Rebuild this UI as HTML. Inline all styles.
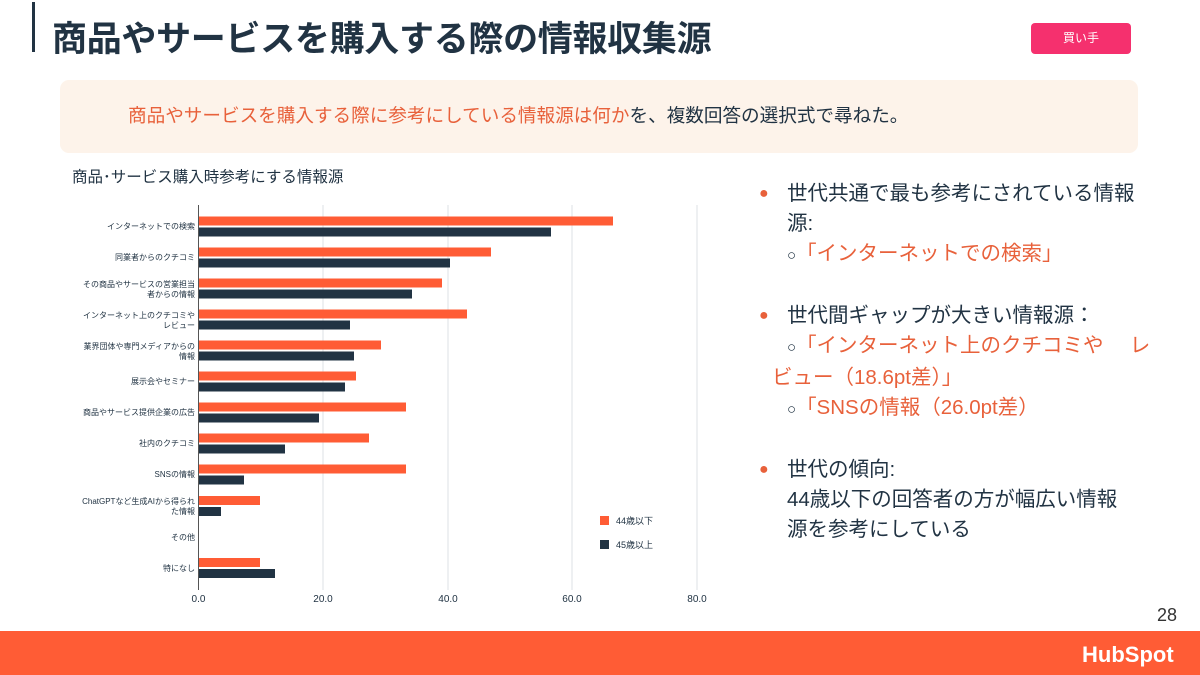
<!DOCTYPE html>
<html><head><meta charset="utf-8"><style>
body{margin:0;width:1200px;height:675px;position:relative;background:#fff;overflow:hidden;font-family:"Liberation Sans","Noto Sans CJK JP",sans-serif;color:#213343}
.a{position:absolute;white-space:nowrap}
.o{color:#e8613b}
</style></head><body>
<div class="a" style="left:32px;top:2px;width:3px;height:50px;background:#213343"></div>
<div class="a" style="left:52px;top:18px;font-size:35px;font-weight:bold;line-height:44px;letter-spacing:-0.3px">商品やサービスを購入する際の情報収集源</div>
<div class="a" style="left:1031px;top:23px;width:100px;height:31px;background:#f5306e;border-radius:4px;color:#fff;font-size:12px;line-height:31px;text-align:center">買い手</div>
<div class="a" style="left:60px;top:80px;width:1078px;height:73px;background:#fdf3ea;border-radius:9px"></div>
<div class="a" style="left:128px;top:103px;font-size:18.6px;line-height:26px"><span class="o">商品やサービスを購入する際に参考にしている情報源は何か</span>を、複数回答の選択式で尋ねた。</div>
<div class="a" style="left:72px;top:167px;font-size:15.5px;line-height:22px">商品･サービス購入時参考にする情報源</div>
<svg class="a" style="left:0;top:0" width="740" height="620" font-family="Liberation Sans,Noto Sans CJK JP,sans-serif">
<g stroke="#dde1e5" stroke-width="1">
<line x1="323" y1="205" x2="323" y2="590"/><line x1="448" y1="205" x2="448" y2="590"/><line x1="572" y1="205" x2="572" y2="590"/><line x1="697" y1="205" x2="697" y2="590"/></g>
<line x1="198.5" y1="205" x2="198.5" y2="590" stroke="#555" stroke-width="1"/>
<g font-size="8" fill="#213343" text-anchor="end">
<text x="195" y="229">インターネットでの検索</text>
<text x="195" y="260">同業者からのクチコミ</text>
<text x="195" y="287">その商品やサービスの営業担当</text><text x="195" y="297">者からの情報</text>
<text x="195" y="318">インターネット上のクチコミや</text><text x="195" y="328">レビュー</text>
<text x="195" y="349">業界団体や専門メディアからの</text><text x="195" y="359">情報</text>
<text x="195" y="384">展示会やセミナー</text>
<text x="195" y="415">商品やサービス提供企業の広告</text>
<text x="195" y="446">社内のクチコミ</text>
<text x="195" y="477">SNSの情報</text>
<text x="195" y="504">ChatGPTなど生成AIから得られ</text><text x="195" y="514">た情報</text>
<text x="195" y="540">その他</text>
<text x="195" y="571">特になし</text>
</g>
<g fill="#ff5c35">
<rect x="199" y="216.5" width="414" height="9"/>
<rect x="199" y="247.5" width="292" height="9"/>
<rect x="199" y="278.5" width="243" height="9"/>
<rect x="199" y="309.5" width="268" height="9"/>
<rect x="199" y="340.5" width="182" height="9"/>
<rect x="199" y="371.5" width="157" height="9"/>
<rect x="199" y="402.5" width="207" height="9"/>
<rect x="199" y="433.5" width="170" height="9"/>
<rect x="199" y="464.5" width="207" height="9"/>
<rect x="199" y="496" width="61" height="9"/>
<rect x="199" y="558" width="61" height="9"/>
</g>
<g fill="#213343">
<rect x="199" y="227.5" width="352" height="9"/>
<rect x="199" y="258.5" width="251" height="9"/>
<rect x="199" y="289.5" width="213" height="9"/>
<rect x="199" y="320.5" width="151" height="9"/>
<rect x="199" y="351.5" width="155" height="9"/>
<rect x="199" y="382.5" width="146" height="9"/>
<rect x="199" y="413.5" width="120" height="9"/>
<rect x="199" y="444.5" width="86" height="9"/>
<rect x="199" y="475.5" width="45" height="9"/>
<rect x="199" y="507" width="22" height="9"/>
<rect x="199" y="569" width="76" height="9"/>
</g>
<rect x="600" y="516" width="9" height="9" fill="#ff5c35"/><text x="616" y="524" font-size="9" fill="#213343">44歳以下</text>
<rect x="600" y="540" width="9" height="9" fill="#213343"/><text x="616" y="548" font-size="9" fill="#213343">45歳以上</text>
<g font-size="10" fill="#213343" text-anchor="middle">
<text x="198.5" y="602">0.0</text><text x="323" y="602">20.0</text><text x="448" y="602">40.0</text><text x="572" y="602">60.0</text><text x="697" y="602">80.0</text></g>
</svg>
<div class="a" style="left:762px;top:179px;font-size:20.5px;line-height:30px">
<div style="position:relative"><span class="o" style="position:absolute;left:-3px;font-size:16px">●</span><div style="margin-left:25px">世代共通で最も参考にされている情報<br>源:<br><span style="font-size:15px">○</span><span class="o">「インターネットでの検索」</span></div></div>
<div style="height:30px"></div>
<div style="position:relative"><span class="o" style="position:absolute;left:-3px;font-size:16px">●</span><div style="margin-left:25px">世代間ギャップが大きい情報源：<br><span style="font-size:15px">○</span><span class="o">「インターネット上のクチコミや　 レ</span></div><div class="o" style="margin-left:10px">ビュー（18.6pt差）」</div><div style="margin-left:25px"><span style="font-size:15px">○</span><span class="o">「SNSの情報（26.0pt差）</span></div></div>
<div style="height:30px"></div>
<div style="position:relative"><span class="o" style="position:absolute;left:-3px;font-size:16px">●</span><div style="margin-left:25px">世代の傾向:<br>44歳以下の回答者の方が幅広い情報<br>源を参考にしている</div></div>
</div>
<div class="a" style="left:1157px;top:605px;font-size:18px;color:#333">28</div>
<div class="a" style="left:0;top:631px;width:1200px;height:44px;background:#ff5c35"></div>
<div class="a" style="left:1082px;top:640px;font-size:22px;font-weight:bold;color:#fff;line-height:30px">HubSpot</div>
</body></html>
